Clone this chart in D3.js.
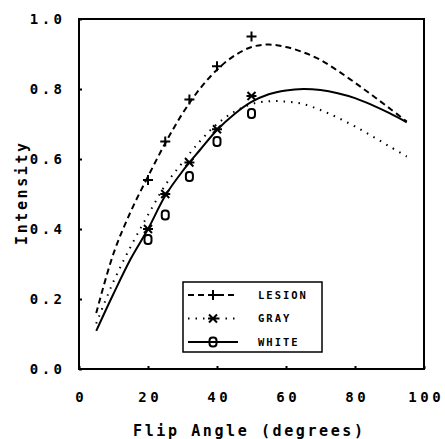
<!DOCTYPE html>
<html>
<head>
<meta charset="utf-8">
<script src="https://cdn.jsdelivr.net/npm/d3@7"></script>
<style>
body { margin: 0; background: #fff; }
text { font-family: "DejaVu Sans Mono", monospace; font-weight: bold; fill: #000; }
</style>
</head>
<body>
<div id="chart1"></div>
<script>
// Fitted curves
var curveAngles = [5, 10, 15, 20, 25, 30, 35, 40, 45, 50, 55, 60, 65, 70, 75, 80, 85, 90, 95];
var lesionCurve = [0.16, 0.33, 0.45, 0.55, 0.645, 0.73, 0.80, 0.855, 0.895, 0.92, 0.927, 0.92, 0.905, 0.883, 0.852, 0.818, 0.782, 0.745, 0.707];
var grayCurve = [0.13, 0.25, 0.35, 0.44, 0.525, 0.59, 0.65, 0.70, 0.735, 0.757, 0.765, 0.764, 0.757, 0.74, 0.718, 0.693, 0.665, 0.636, 0.607];
var whiteCurve = [0.109, 0.215, 0.315, 0.40, 0.495, 0.565, 0.625, 0.683, 0.728, 0.763, 0.785, 0.796, 0.80, 0.797, 0.788, 0.774, 0.754, 0.731, 0.705];

// Measured points
var pointAngles = [20, 25, 32, 40, 50];
var lesionPoints = [0.54, 0.65, 0.77, 0.865, 0.95];
var grayPoints = [0.40, 0.50, 0.59, 0.685, 0.78];
var whitePoints = [0.37, 0.44, 0.55, 0.65, 0.73];

var xTicks = [0, 20, 40, 60, 80, 100];
var yTicks = [0, 0.2, 0.4, 0.6, 0.8, 1.0];
var legendNames = ["LESION", "GRAY", "WHITE"];

var cfg = {
	width : 445,
	height : 439,
	left : 79,
	top : 19,
	right : 424,
	bottom : 369,
	tickLs : 3.5
}

var svg1 = d3.select("#chart1").append("svg")
	.attr("width", cfg.width)
	.attr("height", cfg.height);

var x = d3.scaleLinear().domain([0, 100]).range([cfg.left, cfg.right]);
var y = d3.scaleLinear().domain([0, 1]).range([cfg.bottom, cfg.top]);

// frame
svg1.append("rect")
	.attr("x", cfg.left).attr("y", cfg.top)
	.attr("width", cfg.right - cfg.left).attr("height", cfg.bottom - cfg.top)
	.attr("fill", "none").attr("stroke", "#000").attr("stroke-width", 2);

// axes with inward ticks
var xAxis = svg1.append("g")
	.attr("transform", "translate(0," + cfg.bottom + ")")
	.call(d3.axisBottom(x).tickValues(xTicks).tickSize(-3).tickPadding(23)
		.tickFormat(function(d){ return d3.format("d")(d); }));
var yAxis = svg1.append("g")
	.attr("transform", "translate(" + cfg.left + ",0)")
	.call(d3.axisLeft(y).tickValues(yTicks).tickSize(-3).tickPadding(17 - cfg.tickLs)
		.tickFormat(function(d){ return d3.format(".1f")(d); }));
[xAxis, yAxis].forEach(function(a){
	a.select(".domain").remove();
	a.selectAll("line").attr("stroke", "#000").attr("stroke-width", 2);
	a.selectAll("text").attr("font-size", 14).attr("letter-spacing", cfg.tickLs)
		.style("font-family", "DejaVu Sans Mono").style("font-weight", "bold");
});
yAxis.selectAll("text").attr("dy", "0.35em");
xAxis.selectAll("text").attr("dx", cfg.tickLs / 2);

svg1.append("text")
	.attr("x", 133).attr("y", 436)
	.attr("font-size", 15).attr("letter-spacing", 2.6)
	.text("Flip Angle (degrees)");
svg1.append("text")
	.attr("transform", "translate(27,245) rotate(-90)")
	.attr("font-size", 15).attr("letter-spacing", 2.6)
	.text("Intensity");

// curves
var line = d3.line()
	.x(function(d){ return x(d[0]); })
	.y(function(d){ return y(d[1]); })
	.curve(d3.curveCatmullRom);

var styles = [
	{ data: lesionCurve, dash: "6,4", width: 2 },
	{ data: grayCurve, dash: "1.5,6", width: 2 },
	{ data: whiteCurve, dash: null, width: 2 }
];
styles.forEach(function(s){
	svg1.append("path")
		.datum(d3.zip(curveAngles, s.data))
		.attr("d", line)
		.attr("fill", "none")
		.attr("stroke", "#000")
		.attr("stroke-width", s.width)
		.attr("stroke-dasharray", s.dash);
});

// marker drawing
function plus(g, cx, cy) {
	g.append("path").attr("d", "M" + (cx-5) + "," + cy + "H" + (cx+5) + "M" + cx + "," + (cy-5) + "V" + (cy+5))
		.attr("stroke", "#000").attr("stroke-width", 2).attr("fill", "none");
}
function star(g, cx, cy) {
	g.append("path").attr("d", "M" + (cx-4) + "," + (cy-4) + "L" + (cx+4) + "," + (cy+4)
		+ "M" + (cx+4) + "," + (cy-4) + "L" + (cx-4) + "," + (cy+4)
		+ "M" + (cx-5) + "," + cy + "H" + (cx+5))
		.attr("stroke", "#000").attr("stroke-width", 2).attr("fill", "none");
}
function circ(g, cx, cy) {
	g.append("rect").attr("x", cx-3.5).attr("y", cy-4.5).attr("width", 7).attr("height", 9).attr("rx", 3)
		.attr("stroke", "#000").attr("stroke-width", 2).attr("fill", "none");
}

var pts = svg1.append("g");
pointAngles.forEach(function(a, i){
	plus(pts, x(a), y(lesionPoints[i]));
	star(pts, x(a), y(grayPoints[i]));
	circ(pts, x(a), y(whitePoints[i]));
});

// legend
var lg = svg1.append("g");
lg.append("rect").attr("x", 183).attr("y", 282).attr("width", 139).attr("height", 70)
	.attr("fill", "#fff").attr("stroke", "#000").attr("stroke-width", 1.5);
var markers = [plus, star, circ];
legendNames.forEach(function(n, i){
	var ly = 295 + i * 23.5;
	lg.append("line").attr("x1", 188).attr("x2", 238).attr("y1", ly).attr("y2", ly)
		.attr("stroke", "#000").attr("stroke-width", styles[i].width)
		.attr("stroke-dasharray", styles[i].dash);
	markers[i](lg, 213, ly);
	lg.append("text").attr("x", 258).attr("y", ly).attr("dy", "0.35em")
		.attr("font-size", 10.5).attr("letter-spacing", 2).text(n);
});
</script>
</body>
</html>
